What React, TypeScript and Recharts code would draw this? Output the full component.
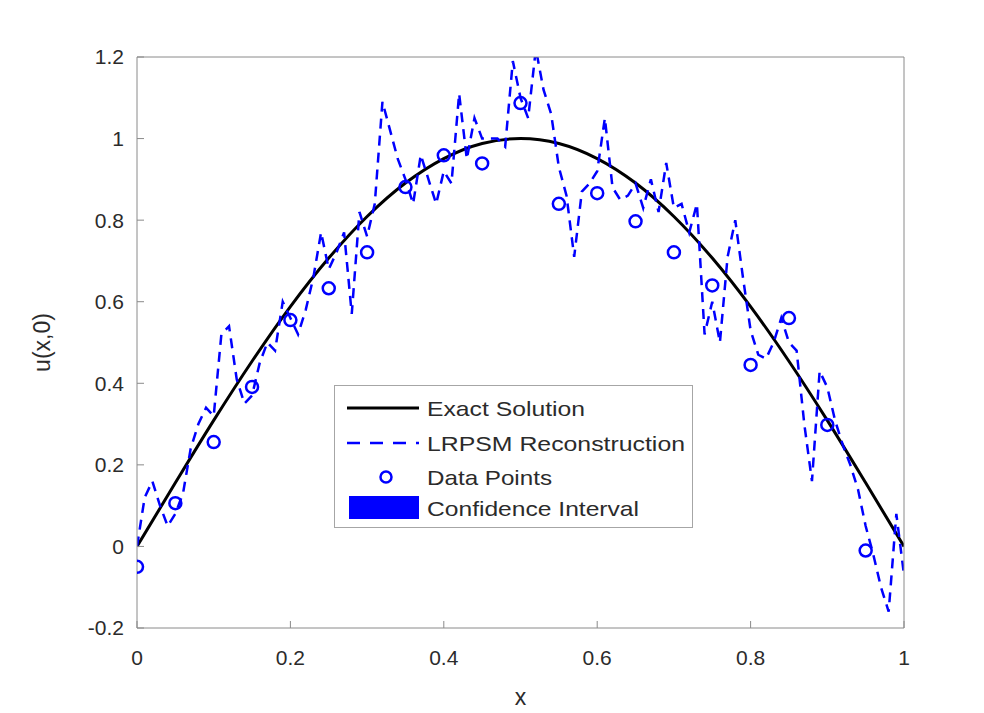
import { ComposedChart, Line, Scatter, XAxis, YAxis } from 'recharts';

// x grid of the LRPSM reconstruction
const reconX = [
  0, 0.01, 0.02, 0.03, 0.04, 0.05, 0.06, 0.07, 0.08, 0.09,
  0.1, 0.11, 0.12, 0.13, 0.14, 0.15, 0.16, 0.17, 0.18, 0.19,
  0.2, 0.21, 0.22, 0.23, 0.24, 0.25, 0.26, 0.27, 0.28, 0.29,
  0.3, 0.31, 0.32, 0.33, 0.34, 0.35, 0.36, 0.37, 0.38, 0.39,
  0.4, 0.41, 0.42, 0.43, 0.44, 0.45, 0.46, 0.47, 0.48, 0.49,
  0.5, 0.51, 0.52, 0.53, 0.54, 0.55, 0.56, 0.57, 0.58, 0.59,
  0.6, 0.61, 0.62, 0.63, 0.64, 0.65, 0.66, 0.67, 0.68, 0.69,
  0.7, 0.71, 0.72, 0.73, 0.74, 0.75, 0.76, 0.77, 0.78, 0.79,
  0.8, 0.81, 0.82, 0.83, 0.84, 0.85, 0.86, 0.87, 0.88, 0.89,
  0.9, 0.91, 0.92, 0.93, 0.94, 0.95, 0.96, 0.97, 0.98, 0.99, 1,
];
const reconU = [
  0, 0.12, 0.16, 0.1, 0.05, 0.08, 0.13, 0.24, 0.3, 0.34,
  0.32, 0.52, 0.54, 0.41, 0.35, 0.37, 0.45, 0.5, 0.48, 0.6,
  0.56, 0.52, 0.58, 0.66, 0.77, 0.68, 0.72, 0.77, 0.57, 0.82,
  0.76, 0.84, 1.09, 1.02, 0.95, 0.9, 0.84, 0.96, 0.9, 0.84,
  0.92, 0.89, 1.11, 0.95, 1.05, 1.0, 1.0, 1.0, 0.98, 1.19,
  1.1, 1.05, 1.22, 1.12, 1.06, 0.93, 0.86, 0.71, 0.87, 0.89,
  0.92, 1.05, 0.88, 0.85, 0.86, 0.89, 0.83, 0.9, 0.82, 0.94,
  0.83, 0.84, 0.77, 0.84, 0.52, 0.6, 0.5, 0.71, 0.8, 0.66,
  0.53, 0.47, 0.46, 0.5, 0.56, 0.5, 0.48, 0.3, 0.16, 0.43,
  0.39, 0.31, 0.25, 0.2, 0.14, 0.05, -0.02, -0.1, -0.16, 0.08, -0.07,
];

const exactX = [0, 0.05, 0.1, 0.15, 0.2, 0.25, 0.3, 0.35, 0.4, 0.45, 0.5, 0.55, 0.6, 0.65, 0.7, 0.75, 0.8, 0.85, 0.9, 0.95, 1];
const exactU = [0, 0.156, 0.309, 0.454, 0.588, 0.707, 0.809, 0.891, 0.951, 0.988, 1, 0.988, 0.951, 0.891, 0.809, 0.707, 0.588, 0.454, 0.309, 0.156, 0];

const pointX = [0, 0.05, 0.1, 0.15, 0.2, 0.25, 0.3, 0.35, 0.4, 0.45, 0.5, 0.55, 0.6, 0.65, 0.7, 0.75, 0.8, 0.85, 0.9, 0.95];
const pointU = [-0.05, 0.106, 0.256, 0.391, 0.555, 0.633, 0.721, 0.881, 0.959, 0.939, 1.087, 0.84, 0.866, 0.797, 0.721, 0.64, 0.445, 0.56, 0.298, -0.01];

const xTicks = [0, 0.2, 0.4, 0.6, 0.8, 1];
const yTicks = [-0.2, 0, 0.2, 0.4, 0.6, 0.8, 1, 1.2];

const legendItems = ['Exact Solution', 'LRPSM Reconstruction', 'Data Points', 'Confidence Interval'];

const zip = (xs: number[], us: number[]) => xs.map((x, i) => ({ x, u: us[i] }));
const recon = zip(reconX, reconU);
const exact = zip(exactX, exactU);
const points = zip(pointX, pointU);

const FONT = '"Liberation Sans", Arial, Helvetica, sans-serif';
const AXIS = '#8a8a8a';
const TEXT = '#2b2b2b';

// MATLAB style legend box, laid over the axes
function LegendBox() {
  const rows = [23, 58, 92, 123];
  const widths = [158, 258, 125, 212];
  return (
    <svg width={360} height={144} style={{ position: 'absolute', left: 334, top: 385 }}>
      <rect x={0.5} y={0.5} width={358} height={142} fill="#fff" stroke="#a6a6a6" strokeWidth={1} />
      <line x1={13} x2={85} y1={rows[0]} y2={rows[0]} stroke="#000" strokeWidth={3} />
      <line x1={13} x2={85} y1={rows[1]} y2={rows[1]} stroke="#0000ff" strokeWidth={2.5} strokeDasharray="13 10" />
      <circle cx={52} cy={rows[2]} r={5.5} fill="none" stroke="#0000ff" strokeWidth={2.5} />
      <rect x={15} y={rows[3] - 12} width={70} height={23} fill="#0000ff" />
      {legendItems.map((t, i) => (
        <text
          key={t}
          x={93}
          y={rows[i]}
          dominantBaseline="central"
          fontSize={21}
          fontFamily={FONT}
          fill={TEXT}
          textLength={widths[i]}
          lengthAdjust="spacingAndGlyphs"
        >
          {t}
        </text>
      ))}
    </svg>
  );
}

export default function App() {
  return (
    <div style={{ position: 'absolute', left: 0, top: 0, width: 984, height: 713, background: '#fff' }}>
      <ComposedChart width={984} height={713} margin={{ top: 56, right: 0, bottom: 0, left: 0 }}>
        <XAxis
          xAxisId="b"
          type="number"
          dataKey="x"
          domain={[0, 1]}
          ticks={xTicks}
          allowDataOverflow
          height={85}
          stroke={AXIS}
          tickSize={-7}
          tickMargin={29}
          tick={{ fill: TEXT, fontSize: 21, fontFamily: FONT }}
          label={{ value: 'x', position: 'insideBottom', offset: 8, fill: TEXT, fontSize: 23, fontFamily: FONT }}
        />
        <XAxis
          xAxisId="t"
          orientation="top"
          type="number"
          dataKey="x"
          domain={[0, 1]}
          ticks={xTicks}
          allowDataOverflow
          height={1}
          stroke={AXIS}
          tickSize={-7}
          tick={false}
        />
        <YAxis
          yAxisId="l"
          type="number"
          domain={[-0.2, 1.2]}
          ticks={yTicks}
          allowDataOverflow
          width={137}
          stroke={AXIS}
          tickSize={-7}
          tickMargin={20}
          tick={{ fill: TEXT, fontSize: 21, fontFamily: FONT }}
          label={{
            value: 'u(x,0)',
            angle: -90,
            position: 'insideLeft',
            offset: 42,
            fill: TEXT,
            fontSize: 23,
            fontFamily: FONT,
            style: { textAnchor: 'middle' },
          }}
        />
        <YAxis
          yAxisId="r"
          orientation="right"
          type="number"
          domain={[-0.2, 1.2]}
          ticks={yTicks}
          allowDataOverflow
          width={80}
          stroke={AXIS}
          tickSize={-7}
          tick={false}
        />
        <Line
          xAxisId="b"
          yAxisId="l"
          data={exact}
          dataKey="u"
          type="monotone"
          stroke="#000"
          strokeWidth={3}
          dot={false}
          activeDot={false}
          isAnimationActive={false}
        />
        <Line
          xAxisId="b"
          yAxisId="l"
          data={recon}
          dataKey="u"
          type="linear"
          stroke="#0000ff"
          strokeWidth={2.5}
          strokeDasharray="10 7"
          dot={false}
          activeDot={false}
          isAnimationActive={false}
        />
        <Line
          xAxisId="t"
          yAxisId="r"
          data={exact}
          dataKey="u"
          stroke="none"
          dot={false}
          activeDot={false}
          isAnimationActive={false}
        />
        <Scatter
          xAxisId="b"
          yAxisId="l"
          data={points}
          dataKey="u"
          isAnimationActive={false}
          shape={(p: any) => <circle cx={p.cx} cy={p.cy} r={6} fill="none" stroke="#0000ff" strokeWidth={2.5} />}
        />
      </ComposedChart>
      <LegendBox />
    </div>
  );
}
